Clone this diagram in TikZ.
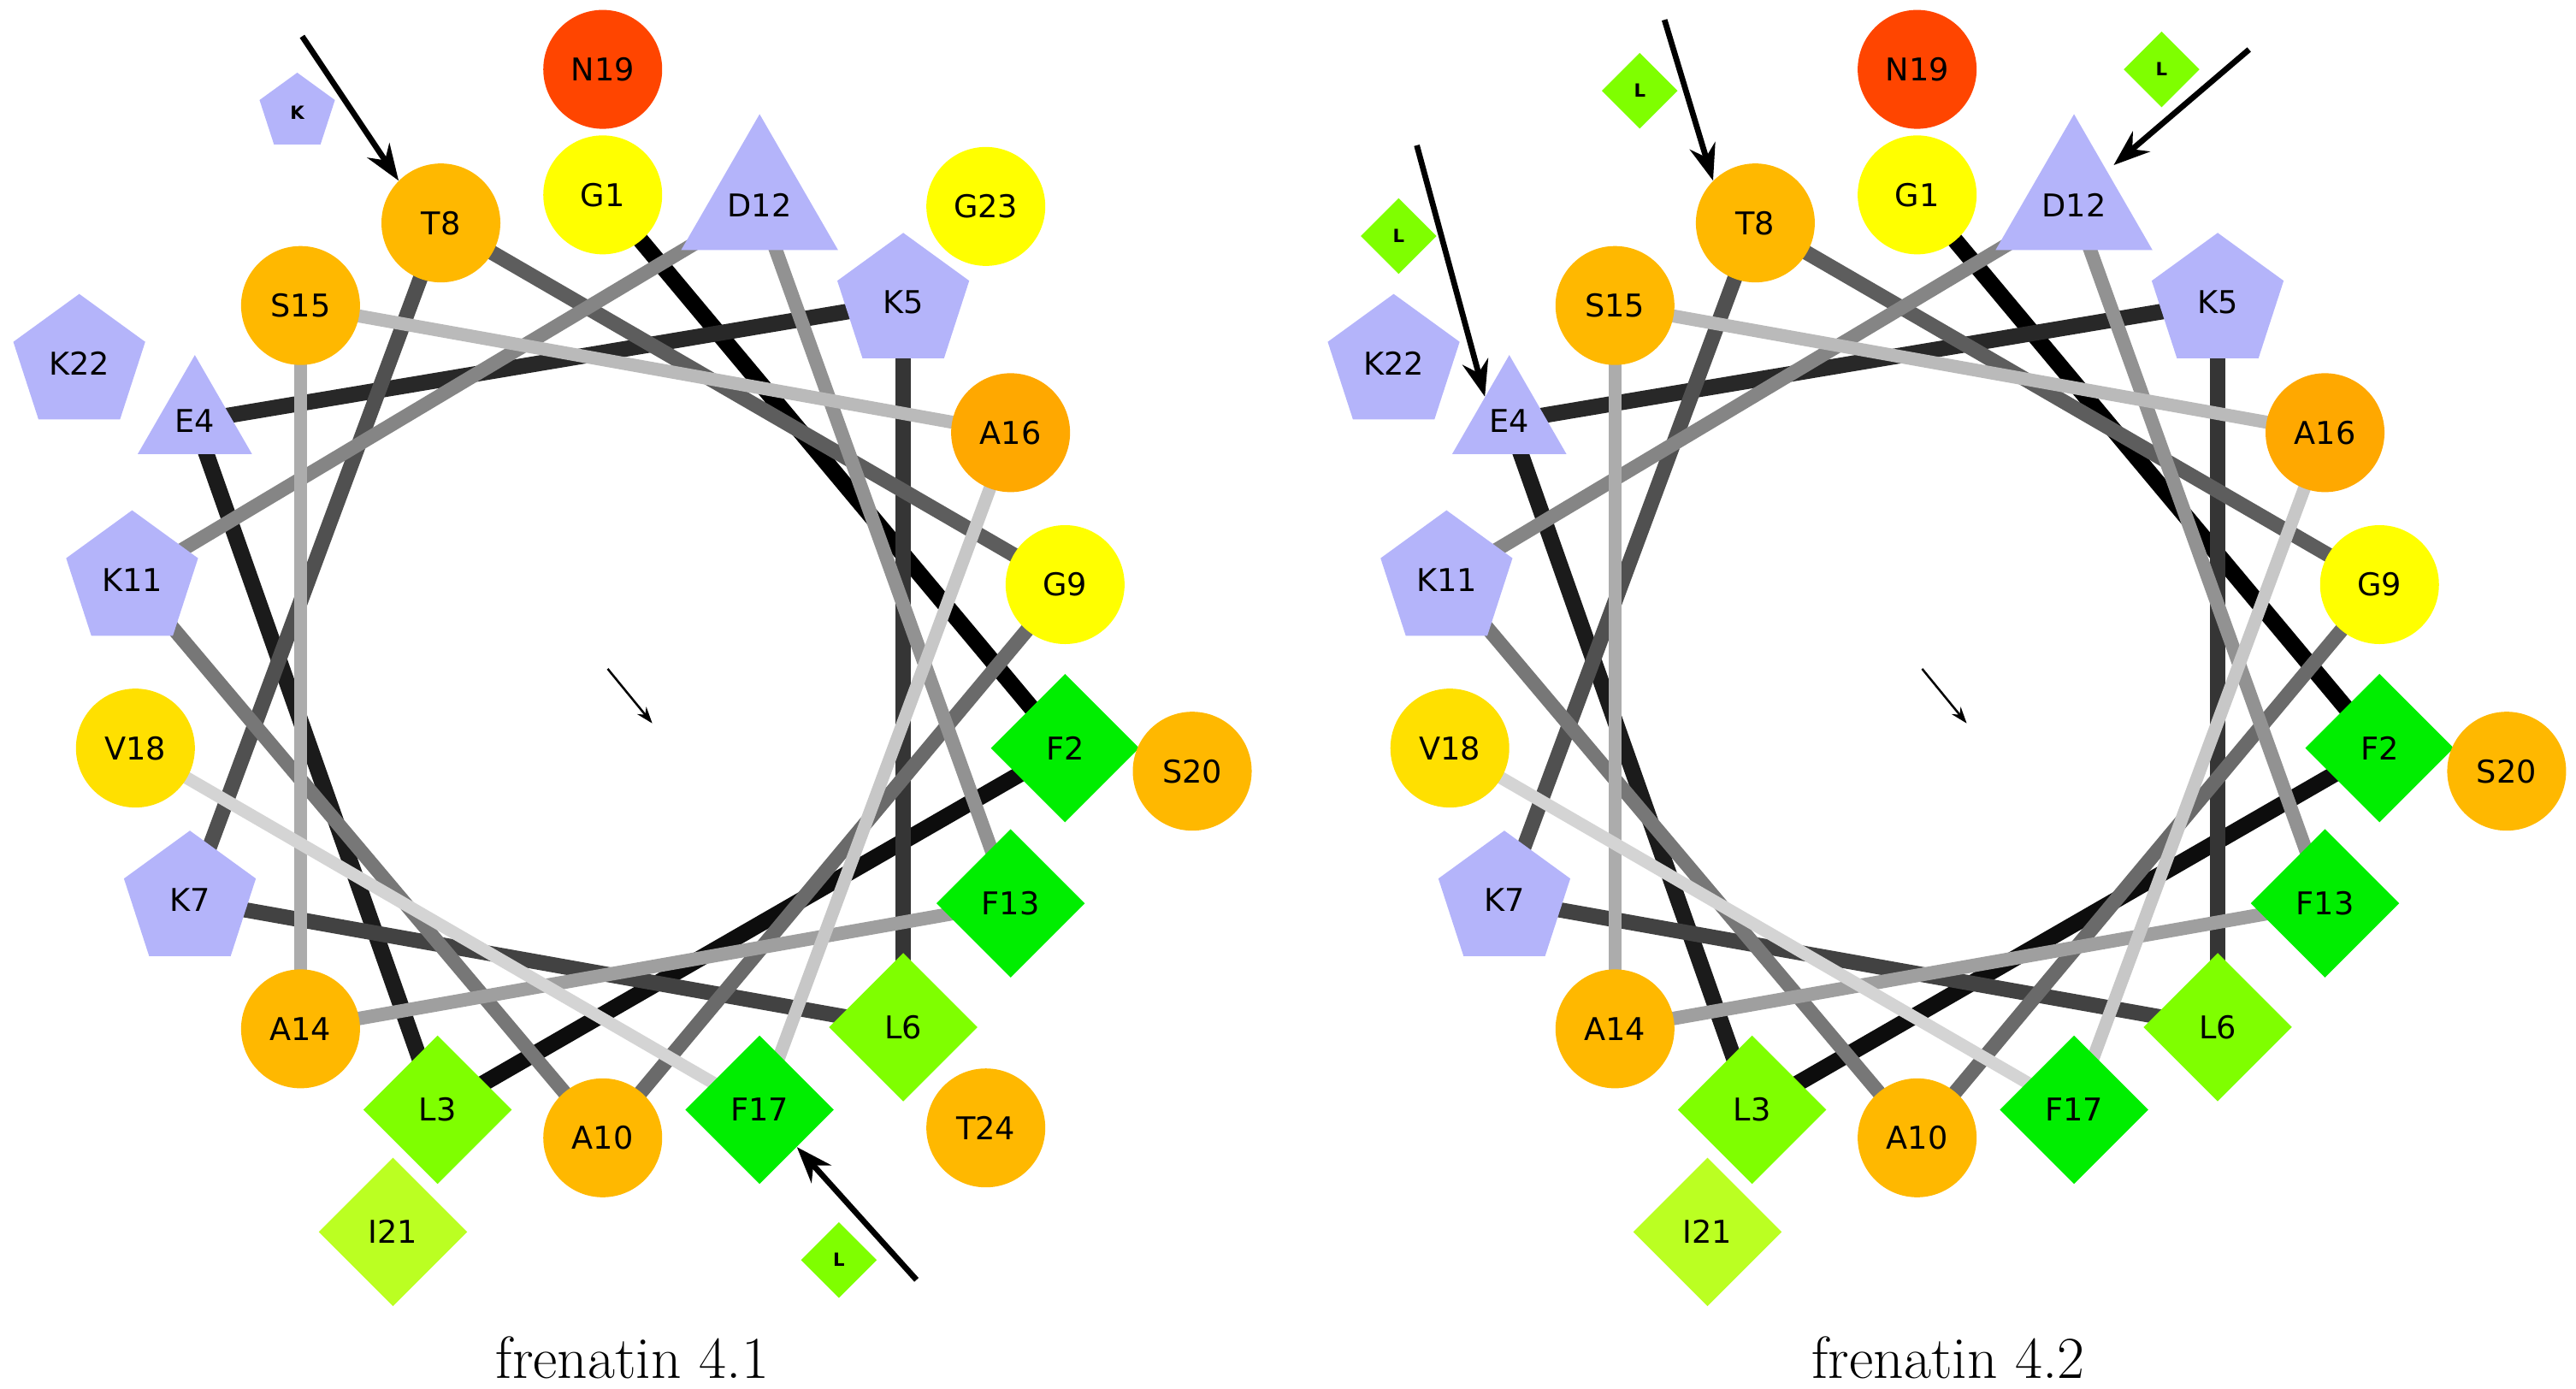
\documentclass[tikz,border=0pt]{standalone}
\usepackage{fontspec}
\newfontfamily\lab{DejaVu Sans}
\usetikzlibrary{shapes.geometric,arrows.meta}
\pgfdeclarelayer{bg}\pgfsetlayers{bg,main}
\definecolor{yel}{HTML}{FFFF00}
\definecolor{gold}{HTML}{FFE000}
\definecolor{orng}{HTML}{FFB800}
\definecolor{dorng}{HTML}{FFA800}
\definecolor{redo}{HTML}{FF4500}
\definecolor{grn}{HTML}{00EE00}
\definecolor{lgrn}{HTML}{7FFF00}
\definecolor{ygrn}{HTML}{BBFF22}
\definecolor{lav}{HTML}{B4B4FA}
\tikzset{
 lbl/.style={font=\lab\fontsize{19}{19}\selectfont, inner sep=0pt},
 circ/.style={lbl,circle,minimum size=72pt},
 dia/.style={lbl,diamond,minimum size=90pt},
 pent/.style={lbl,regular polygon,regular polygon sides=5,minimum size=84pt},
 tri/.style={lbl,regular polygon,regular polygon sides=3,minimum size=80pt,text depth=-10pt},
 smalldia/.style={diamond,minimum size=46pt,inner sep=0pt,font=\lab\fontsize{11}{11}\selectfont\bfseries},
 smallpent/.style={regular polygon,regular polygon sides=5,minimum size=48pt,inner sep=0pt,font=\lab\fontsize{11}{11}\selectfont\bfseries},
 pointer/.style={line width=3.5pt,-{Stealth[length=22pt,width=16pt]}},
 captext/.style={font=\fontsize{36}{36}\selectfont}
}
\newcommand\wheelres[1]{%
 \def\pre{#1}%
 \node[circ,fill=yel] (#1G1) at (365,118) {G1};
 \node[dia,fill=grn] (#1F2) at (645,453) {F2};
 \node[dia,fill=lgrn] (#1L3) at (265,672) {L3};
 \node[tri,fill=lav] (#1E4) at (118,255) {E4};
 \node[pent,fill=lav] (#1K5) at (547,183) {K5};
 \node[dia,fill=lgrn] (#1L6) at (547,622) {L6};
 \node[pent,fill=lav] (#1K7) at (115,545) {K7};
 \node[circ,fill=orng] (#1T8) at (267,135) {T8};
 \node[circ,fill=yel] (#1G9) at (645,354) {G9};
 \node[circ,fill=orng] (#1A10) at (365,689) {A10};
 \node[pent,fill=lav] (#1K11) at (80,351) {K11};
 \node[tri,fill=lav] (#1D12) at (460,124) {D12};
 \node[dia,fill=grn] (#1F13) at (612,547) {F13};
 \node[circ,fill=orng] (#1A14) at (182,623) {A14};
 \node[circ,fill=orng] (#1S15) at (182,185) {S15};
 \node[circ,fill=dorng] (#1A16) at (612,262) {A16};
 \node[dia,fill=grn] (#1F17) at (460,672) {F17};
 \node[circ,fill=gold] (#1V18) at (82,453) {V18};
 \node[circ,fill=redo] (#1N19) at (365,42) {N19};
 \node[circ,fill=orng] (#1S20) at (722,467) {S20};
 \node[dia,fill=ygrn] (#1I21) at (238,746) {I21};
 \node[pent,fill=lav] (#1K22) at (48,220) {K22};
 \draw[-{Stealth[length=10pt,width=7pt]},line width=1.3pt] (368,405) coordinate (#1c0) -- (395,438) coordinate (#1c1);
 \begin{pgfonlayer}{bg}
 \foreach \a/\b [count=\i] in {G1/F2,F2/L3,L3/E4,E4/K5,K5/L6,L6/K7,K7/T8,T8/G9,G9/A10,A10/K11,K11/D12,D12/F13,F13/A14,A14/S15,S15/A16,A16/F17,F17/V18}{
  \pgfmathsetmacro\g{100-(\i-1)*5.2}
  \pgfmathsetmacro\w{10-(\i-1)*0.15}
  \draw[line width=\w pt,black!\g] (\pre\a.center) -- (\pre\b.center);
 }
 \end{pgfonlayer}
}
\begin{document}
\begin{tikzpicture}[x=1pt,y=-1pt]
\useasboundingbox (0,0) rectangle (1560,841);
\begin{scope}
\wheelres{a}
\node[circ,fill=yel] (aG23) at (597,125) {G23};
\node[circ,fill=orng] (aT24) at (597,683) {T24};
\node[smallpent,fill=lav] (aKs) at (180,68) {K};
\coordinate (aArr1) at (183,22);
\draw[pointer] (aArr1) -- (aT8.north west);
\node[smalldia,fill=lgrn] (aLs) at (508,763) {L};
\coordinate (aArr2) at (555,775);
\draw[pointer] (aArr2) -- (aF17.south east);
\node[captext] (acap) at (383,822) {frenatin 4.1};
\end{scope}
\begin{scope}[xshift=796pt]
\wheelres{b}
\node[smalldia,fill=lgrn] (bL1) at (197,55) {L};
\coordinate (bArr1) at (212,12);
\draw[pointer] (bArr1) -- (bT8.north west);
\node[smalldia,fill=lgrn] (bL2) at (51,143) {L};
\coordinate (bArr2) at (62,88);
\draw[pointer] (bArr2) -- (bE4.north west);
\node[smalldia,fill=lgrn] (bL3) at (513,42) {L};
\coordinate (bArr3) at (566,30);
\draw[pointer] (bArr3) -- (484,100);
\node[captext] (bcap) at (384,822) {frenatin 4.2};
\end{scope}
\end{tikzpicture}
\end{document}
